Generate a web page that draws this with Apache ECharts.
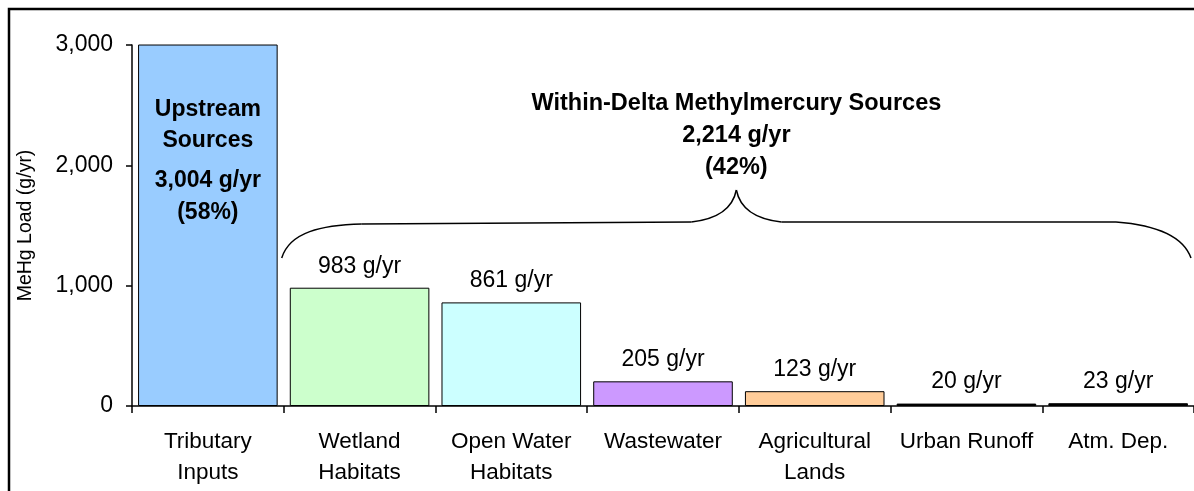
<!DOCTYPE html>
<html>
<head>
<meta charset="utf-8">
<script src="https://cdn.jsdelivr.net/npm/echarts@6/dist/echarts.min.js"></script>
<style>
  html, body { margin: 0; padding: 0; background: #fff; }
  #main { width: 1194px; height: 491px; }
</style>
</head>
<body>
<div id="main"></div>
<script>
// data
var categories = ["Tributary\nInputs", "Wetland\nHabitats", "Open Water\nHabitats", "Wastewater", "Agricultural\nLands", "Urban Runoff", "Atm. Dep."];
var loads = [3004, 983, 861, 205, 123, 20, 23];
var barColors = ["#99CCFF", "#CCFFCC", "#CCFFFF", "#CC99FF", "#FFCC99", "#000000", "#000000"];
var yTicks = [0, 1000, 2000, 3000];
var upstreamText = ["Upstream", "Sources", "3,004 g/yr", "(58%)"];
var deltaText = ["Within-Delta Methylmercury Sources", "2,214 g/yr", "(42%)"];

var font = "Liberation Sans, Arial, sans-serif";
var chart = echarts.init(document.getElementById("main"));

var option = {
  animation: false,
  grid: { left: 132, right: -2, top: 45, bottom: 85 },
  xAxis: {
    type: "category",
    data: categories,
    axisLine: { lineStyle: { color: "#000", width: 1.5 } },
    axisTick: { show: true, length: 7, lineStyle: { color: "#000", width: 1.5 } },
    axisLabel: { color: "#000", fontFamily: font, fontSize: 22.5, lineHeight: 31, margin: 20, interval: 0 }
  },
  yAxis: {
    type: "value",
    min: yTicks[0],
    max: yTicks[yTicks.length - 1],
    interval: 1000,
    name: "MeHg Load (g/yr)",
    nameLocation: "middle",
    nameGap: 96,
    nameTextStyle: { color: "#000", fontFamily: font, fontSize: 19.5 },
    axisLine: { show: true, lineStyle: { color: "#000", width: 1.5 } },
    axisTick: { show: true, length: 6, lineStyle: { color: "#000", width: 1.5 } },
    axisLabel: {
      color: "#000", fontFamily: font, fontSize: 23, margin: 19,
      formatter: function (v) { return v.toLocaleString("en-US"); }
    },
    splitLine: { show: false }
  },
  series: [{
    type: "bar",
    barCategoryGap: "8%",
    data: loads.map(function (v, i) {
      return {
        value: v,
        itemStyle: { color: barColors[i], borderColor: "#000", borderWidth: 1 },
        label: { show: i > 0 }
      };
    }),
    label: {
      position: "top",
      distance: 10,
      color: "#000",
      fontFamily: font,
      fontSize: 23,
      formatter: function (p) { return p.value + " g/yr"; }
    }
  }]
};
chart.setOption(option);

// annotations, placed from the axis scale
var x0 = chart.convertToPixel({ xAxisIndex: 0 }, 0);
var x1 = chart.convertToPixel({ xAxisIndex: 0 }, 1);
var x6 = chart.convertToPixel({ xAxisIndex: 0 }, 6);
var band = x1 - x0;
var bl = x1 - band / 2 - 2;
var br = x6 + band / 2 - 3;
var mid = (bl + br) / 2;

var braceStyle = { fill: null, stroke: "#000", lineWidth: 1.5 };
function curve(p1, c1, c2, p2) {
  return { type: "bezierCurve", silent: true, z: 100, style: braceStyle,
    shape: { x1: p1[0], y1: p1[1], cpx1: c1[0], cpy1: c1[1], cpx2: c2[0], cpy2: c2[1], x2: p2[0], y2: p2[1] } };
}
function seg(p1, p2) {
  return { type: "line", silent: true, z: 100, style: braceStyle, shape: { x1: p1[0], y1: p1[1], x2: p2[0], y2: p2[1] } };
}

var graphics = [
  { type: "rect", silent: true, z: 100, shape: { x: 9, y: 9, width: 1300, height: 600 }, style: { fill: null, stroke: "#000", lineWidth: 2.5 } },
  curve([bl, 258], [bl + 8, 232], [bl + 40, 225], [bl + 80, 224]),
  seg([bl + 80, 224], [mid - 45, 222]),
  curve([mid - 45, 222], [mid - 20, 219], [mid - 4, 210], [mid, 190]),
  curve([mid, 190], [mid + 4, 210], [mid + 20, 219], [mid + 45, 222]),
  seg([mid + 45, 222], [br - 75, 222]),
  curve([br - 75, 222], [br - 35, 225], [br - 8, 236], [br, 258])
];
var upY = [110, 141, 181, 213];
upstreamText.forEach(function (t, i) {
  graphics.push({ type: "text", z: 100, x: x0, y: upY[i], style: { text: t, fill: "#000", font: "bold 23px " + font, textAlign: "center", textVerticalAlign: "middle" } });
});
var dY = [104, 136, 168];
deltaText.forEach(function (t, i) {
  graphics.push({ type: "text", z: 100, x: mid, y: dY[i], style: { text: t, fill: "#000", font: "bold 23.5px " + font, textAlign: "center", textVerticalAlign: "middle" } });
});
chart.setOption({ graphic: { elements: graphics } });
</script>
</body>
</html>
